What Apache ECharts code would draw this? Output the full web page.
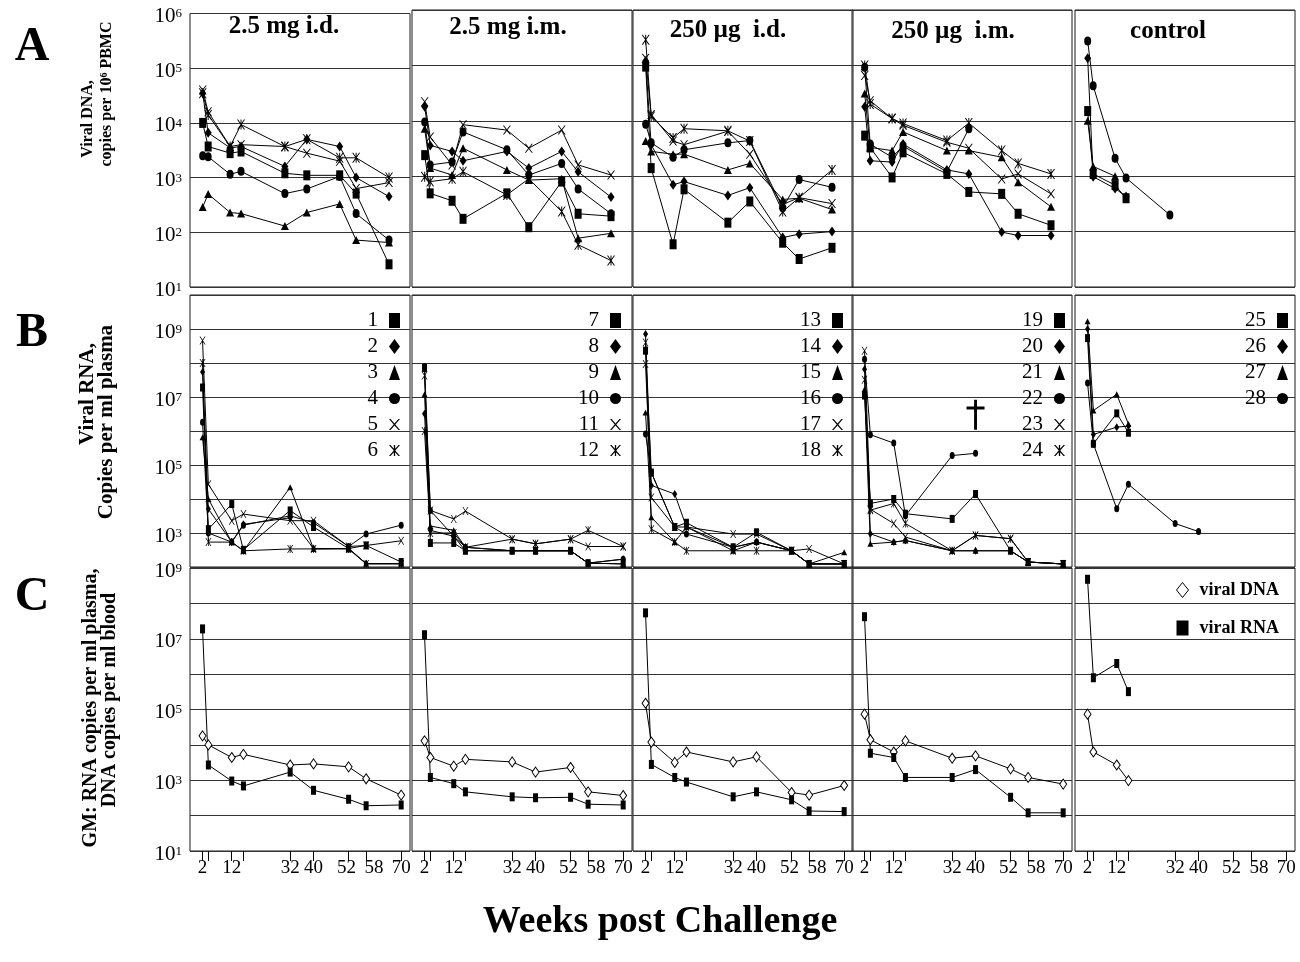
<!DOCTYPE html>
<html><head><meta charset="utf-8">
<script src="https://cdn.jsdelivr.net/npm/echarts@6/dist/echarts.min.js"></script>
<style>html,body{margin:0;padding:0;background:#fff}#c{width:1300px;height:962px}</style>
</head><body><div id="c"></div>
<script>
// ---------------- data ----------------
const weeks = [2, 4, 12, 16, 32, 40, 52, 58, 70];
const tickWeeks = [2, 4, 12, 16, 32, 40, 52, 58, 70];
const labelWeeks = [2, 12, 32, 40, 52, 58, 70];
const groupTitles = ['2.5 mg i.d.', '2.5 mg i.m.', '250 \u00b5g  i.d.', '250 \u00b5g  i.m.', 'control'];
const animalIds = [[1,2,3,4,5,6],[7,8,9,10,11,12],[13,14,15,16,17,18],[19,20,21,22,23,24],[25,26,27,28]];
const markerKinds = ['square','diamond','triangle','circle','cross','asterisk'];

// Row A: viral DNA, copies per 10^6 PBMC (one array per animal)
const dnaG1 = [
  [10000, 3700, 2800, 3000, 1200, 1100, 1100, 510, 26],
  [35000, 6600, 3500, 3700, 1600, 5000, 3700, 1000, 450],
  [290, 500, 230, 220, 130, 230, 330, 72, 65],
  [2500, 2400, 1150, 1300, 510, 620, 1050, 220, 72],
  [40000, 16000, 3700, 4000, 3700, 2800, 2000, 630, 810],
  [35000, 14000, 3700, 9300, 3700, 5000, 2300, 2300, 1000]
];
const dnaG2 = [
  [2400, 490, 360, 170, 490, 120, 800, 210, 190],
  [18000, 3600, 2800, 1900, 2800, 1400, 2800, 1200, 420],
  [7200, 1400, 1050, 3200, 1300, 850, 900, 76, 93],
  [9500, 1600, 1800, 6300, 3000, 1050, 1700, 590, 210],
  [22000, 5100, 1600, 8500, 6800, 3200, 6800, 1600, 1050],
  [980, 800, 900, 1200, 460, 900, 230, 58, 30]
];
const dnaG3 = [
  [95000, 1400, 59, 580, 145, 350, 63, 32, 51],
  [120000, 3700, 700, 800, 450, 620, 78, 90, 100],
  [4300, 2800, 2500, 2500, 1300, 1700, 380, 400, 250],
  [8700, 4000, 2200, 3000, 4000, 4400, 270, 870, 630],
  [135000, 13000, 4300, 3700, 6500, 2500, 310, 410, 320],
  [290000, 12000, 4900, 7200, 6600, 4300, 230, 410, 1300]
];
const dnaG4 = [
  [5400, 3300, 950, 2700, 1100, 520, 480, 210, 130],
  [18000, 1900, 1800, 3800, 1300, 1100, 98, 85, 85],
  [31000, 3300, 2900, 6300, 2900, 2900, 2200, 780, 280],
  [93000, 3800, 2200, 3500, 1200, 7200],
  [66000, 23000, 11000, 8300, 4100, 3200, 890, 1100, 480],
  [100000, 20000, 11000, 8900, 4400, 9100, 2900, 1700, 1100]
];
const dnaG5 = [
  [15000, 1100, 690, 400],
  [135000, 980, 600, 430],
  [10000, 1500, 1000],
  [275000, 43000, 2100, 930, 200]
];

// Row B: viral RNA, copies per ml plasma
const rnaG1 = [
  [1.9e7, 1300, 7100, 320, 4600, 1500, 350, 430, 140],
  [5.4e7, 5100, 540, 1800, 2800, 350, 350, 126, 126],
  [6.5e5, 10000, 540, 300, 22000, 340, 350, 126, 126],
  [1.8e6, 1000, 540, 1700, 3200, 2000, 400, 930, 1700],
  [4.6e8, 27000, 2300, 3600, 2300, 2300, 400, 430, 590],
  [1e8, 540, 540, 300, 340, 340, 340, 123, 123]
];
const rnaG2 = [
  [7.1e7, 510, 510, 300, 300, 300, 300, 130, 123],
  [3.2e6, 1200, 800, 300, 300, 300, 300, 130, 170],
  [1.2e7, 1600, 1200, 380, 300, 300, 300, 130, 123],
  [7.9e7, 4600, 800, 380, 300, 300, 300, 130, 170],
  [4.3e7, 4600, 2600, 4400, 660, 480, 660, 400, 400],
  [1e6, 1000, 1000, 380, 660, 480, 660, 1200, 400]
];
const rnaG3 = [
  [2.3e8, 60000, 1500, 2000, 380, 1050, 300, 123, 123],
  [7.1e8, 25000, 14000, 1500, 380, 540, 300, 123, 123],
  [3.5e6, 2900, 540, 1500, 300, 540, 300, 123, 270],
  [8.1e5, 60000, 1500, 930, 380, 540, 300, 123, 123],
  [9.3e7, 11000, 1500, 1500, 930, 930, 300, 340, 123],
  [4e8, 1300, 540, 300, 300, 300, 300, 123, 123]
];
const rnaG4 = [
  [1.1e7, 7400, 10000, 3700, 2600, 14000, 300, 140, 123],
  [6.6e7, 950, 540, 600, 300, 300, 300, 140, 123],
  [1.7e7, 480, 540, 600, 300, 300, 300, 140, 123],
  [1.3e8, 7.8e5, 4.4e5, 3200, 1.9e5, 2.2e5],
  [2.3e8, 5000, 1900, 760, 300, 850, 680, 140, 123],
  [3.2e7, 4700, 7400, 1900, 300, 850, 680, 140, 123]
];
const rnaG5 = [
  [5.4e8, 4.2e5, 3.3e6, 8.9e5],
  [1e9, 7.9e5, 1.3e6, 1.4e6],
  [1.7e9, 4e6, 1.2e7, 1.6e6],
  [2.6e7, 4.2e5, 5200, 27000, 1900, 1100]
];
// animal 22 died at week 40 (dagger)
const deathWeek = 40;
const deathMarkLevel = 3e6;

// Row C: geometric means
const gmDna = [
  [18000, 10000, 4400, 5400, 2700, 2900, 2400, 1100, 380],
  [13000, 4400, 2500, 3900, 3300, 1700, 2300, 470, 370],
  [150000, 12000, 3200, 6300, 3300, 4600, 450, 380, 710],
  [74000, 14000, 6300, 13000, 4200, 4900, 2100, 1200, 780],
  [74000, 6300, 2700, 980]
];
const gmRna = [
  [1.9e7, 2700, 950, 690, 1700, 520, 290, 190, 200],
  [1.3e7, 1200, 800, 470, 340, 320, 330, 210, 200],
  [5.4e7, 2800, 1200, 890, 340, 470, 280, 135, 130],
  [4.2e7, 5800, 4400, 1200, 1200, 2000, 330, 120, 120],
  [4.8e8, 7.9e5, 2e6, 3.2e5]
];

// ---------------- layout / style ----------------
const FONT = '"Liberation Serif", "DejaVu Serif", serif';
const colLeft = [190, 412, 633, 852, 1075];
const colWidth = 220;
const rowLayout = [
  {top: 10, height: 277, min: 1e1, max: 1e6, xmin: -2.63, xmax: 77.66},
  {top: 295, height: 272, min: 1e2, max: 1e10, xmin: -2.29, xmax: 73.02},
  {top: 568, height: 283, min: 1e1, max: 1e9, xmin: -2.29, xmax: 73.02}
];
const SYM = {
  square: 'rect', diamond: 'diamond', triangle: 'triangle', circle: 'circle',
  cross: 'path://M0,0L1.4,0L5,4.1L8.6,0L10,0L5.7,5L10,10L8.6,10L5,5.9L1.4,10L0,10L4.3,5Z',
  asterisk: 'path://M0,0L1.4,0L5,4.1L8.6,0L10,0L5.7,5L10,10L8.6,10L5,5.9L1.4,10L0,10L4.3,5ZM4.4,0L5.6,0L5.6,10L4.4,10Z'
};
const DAGGER = 'path://M4.2,0H5.8V3.6H10V5.2H5.8V16H4.2V5.2H0V3.6H4.2Z';
const sizeA = {square:[7,10], diamond:[7,10], triangle:[8,8], circle:[7,9], cross:[8,9], asterisk:[8,10]};
const sizeB = {square:[5,8], diamond:[5,8], triangle:[6,6], circle:[5,7], cross:[6,8], asterisk:[6,8]};

const grids = [], xAxes = [], yAxes = [], series = [];
rowLayout.forEach((R, r) => colLeft.forEach((L, c) => {
  const gi = r * 5 + c;
  grids.push({left: L, top: R.top, width: colWidth, height: R.height, show: true,
    borderColor: '#1a1a1a', borderWidth: 1, backgroundColor: 'transparent'});
  xAxes.push({gridIndex: gi, type: 'value', min: R.xmin, max: R.xmax, show: r === 2,
    axisLine: {show: false}, splitLine: {show: false},
    axisTick: {show: true, customValues: tickWeeks, length: 10, lineStyle: {color: '#000', width: 1}},
    axisLabel: {show: true, customValues: labelWeeks, margin: 8, color: '#000', fontFamily: FONT, fontSize: 19,
      formatter: (v) => v === 58 ? '{r|58}' : (v === 52 ? '{l|52}' : String(v)),
      rich: {
        r: {fontFamily: FONT, fontSize: 19, color: '#000', padding: [0, 0, 0, 16]},
        l: {fontFamily: FONT, fontSize: 19, color: '#000', padding: [0, 4, 0, 0]}
      }}});
  yAxes.push({gridIndex: gi, type: 'log', logBase: 10, min: R.min, max: R.max,
    axisLine: {show: false}, axisTick: {show: false},
    splitLine: {show: true, lineStyle: {color: '#333', width: 1}},
    axisLabel: {show: c === 0, margin: 8, showMinLabel: true, showMaxLabel: true,
      formatter: (v) => { const n = Math.round(Math.log10(v)); if (r > 0 && n % 2 === 0) return ''; return '{b|10}{s|' + n + '}'; },
      rich: {
        b: {fontFamily: FONT, fontSize: 21, color: '#000', lineHeight: 20, padding: [6, 0, 0, 0]},
        s: {fontFamily: FONT, fontSize: 13, color: '#000', lineHeight: 13, verticalAlign: 'top', padding: [4, 0, 0, 0]}
      }}});
}));

const pair = (vals) => vals.map((v, i) => [weeks[i], v]);
[[dnaG1, dnaG2, dnaG3, dnaG4, dnaG5], [rnaG1, rnaG2, rnaG3, rnaG4, rnaG5]].forEach((groups, r) => {
  const sz = r === 0 ? sizeA : sizeB;
  groups.forEach((animals, c) => animals.forEach((vals, k) => {
    const kind = markerKinds[k];
    const s = {name: String(animalIds[c][k]), type: 'line', xAxisIndex: r * 5 + c, yAxisIndex: r * 5 + c,
      data: pair(vals), symbol: SYM[kind], symbolSize: sz[kind], showAllSymbol: true,
      lineStyle: {color: '#000', width: 1}, itemStyle: {color: '#000'}, silent: true, animation: false};
    if (r === 1 && animalIds[c][k] === 22) {
      s.markPoint = {symbol: DAGGER, symbolSize: [18, 30], silent: true, itemStyle: {color: '#000'},
        label: {show: false}, data: [{coord: [deathWeek, deathMarkLevel]}]};
    }
    series.push(s);
  }));
});
gmDna.forEach((vals, c) => series.push({name: 'viral DNA', type: 'line', xAxisIndex: 10 + c, yAxisIndex: 10 + c,
  data: pair(vals), symbol: 'diamond', symbolSize: [7, 10], lineStyle: {color: '#000', width: 1},
  itemStyle: {color: '#fff', borderColor: '#000', borderWidth: 1}, silent: true, animation: false}));
gmRna.forEach((vals, c) => series.push({name: 'viral RNA', type: 'line', xAxisIndex: 10 + c, yAxisIndex: 10 + c,
  data: pair(vals), symbol: 'rect', symbolSize: [5, 9], lineStyle: {color: '#000', width: 1},
  itemStyle: {color: '#000'}, silent: true, animation: false}));

const legendRight = [900, 679, 457, 235, 12];
const legends = animalIds.map((ids, c) => ({
  orient: 'vertical', align: 'right', right: legendRight[c], top: 310, padding: 0,
  itemWidth: 11, itemHeight: 15, itemGap: 5, selectedMode: false,
  textStyle: {fontFamily: FONT, fontSize: 21, color: '#000', lineHeight: 18, padding: [0, 6, 0, 0]},
  data: ids.map((id, k) => ({name: String(id), icon: SYM[markerKinds[k]], itemStyle: {color: '#000', borderWidth: 0}}))
}));
legends.push({orient: 'vertical', align: 'left', left: 1176, top: 581, padding: 0,
  itemWidth: 12, itemHeight: 15, itemGap: 20, selectedMode: false,
  textStyle: {fontFamily: FONT, fontWeight: 'bold', fontSize: 18, color: '#000', padding: [0, 0, 0, 6]},
  data: [{name: 'viral DNA', icon: 'diamond', itemStyle: {color: '#fff', borderColor: '#000', borderWidth: 1}},
         {name: 'viral RNA', icon: 'rect', itemStyle: {color: '#000', borderWidth: 0}}]});

const titleX = [284, 508, 728, 953, 1168];
const titleY = [27, 28, 31, 32, 32];
const txt = (x, y, text, size, extra) => Object.assign({type: 'text', x: x, y: y, silent: true,
  style: {text: text, fontFamily: FONT, fontWeight: 'bold', fontSize: size, fill: '#000', align: 'center', verticalAlign: 'middle'}}, extra || {});
const graphics = [];
groupTitles.forEach((t, c) => graphics.push(txt(titleX[c], titleY[c], t, 25)));
graphics.push(txt(32, 48, 'A', 48), txt(32, 334, 'B', 48), txt(32, 598, 'C', 48));
const rot = {rotation: Math.PI / 2};
graphics.push(txt(88, 119, 'Viral DNA,', 16, rot));
const t2 = txt(107, 94, 'copies per 10{s|6} PBMC', 16, rot);
t2.style.rich = {s: {fontFamily: FONT, fontWeight: 'bold', fontSize: 10, verticalAlign: 'top', lineHeight: 10}};
graphics.push(t2);
graphics.push(txt(88, 394, 'Viral RNA,', 21, rot), txt(107, 422, 'Copies per ml plasma', 21, rot));
graphics.push(txt(91, 708, 'GM: RNA copies per ml plasma,', 20, rot), txt(110, 700, 'DNA copies per ml blood', 20, rot));
graphics.push(txt(660, 922, 'Weeks post Challenge', 38));

const chart = echarts.init(document.getElementById('c'), null, {renderer: 'canvas'});
chart.setOption({
  animation: false, backgroundColor: '#fff',
  textStyle: {fontFamily: FONT},
  grid: grids, xAxis: xAxes, yAxis: yAxes, series: series, legend: legends, graphic: graphics
});
</script></body></html>
